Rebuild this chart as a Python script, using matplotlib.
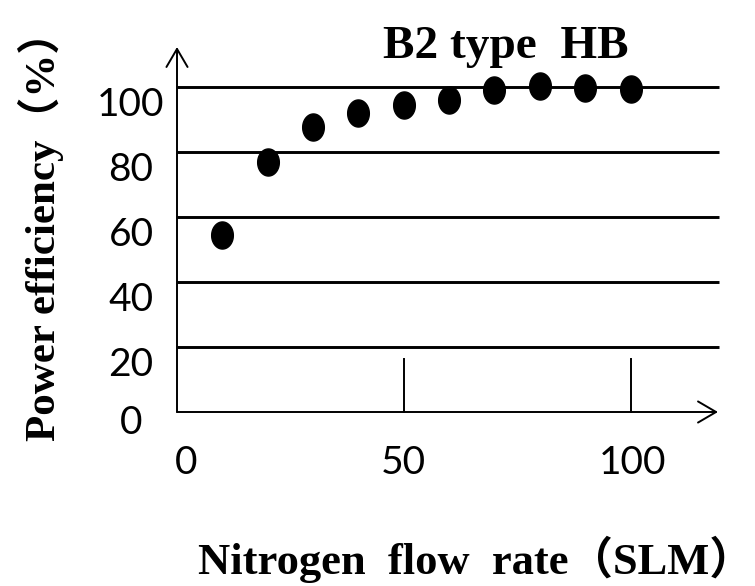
import numpy as np
import matplotlib
matplotlib.use("Agg")
import matplotlib.pyplot as plt
from matplotlib.path import Path
from matplotlib.transforms import blended_transform_factory

# ---- data ----
flow_rate = [10, 20, 30, 40, 50, 60, 70, 80, 90, 100]
efficiency = [54.5, 77, 87.7, 92, 94.5, 96, 99, 100.3, 99.7, 99.4]
y_ticks = [0, 20, 40, 60, 80, 100]
y_tick_labels = ["0", "20", "40", "60", "80", "100"]
x_ticks = [0, 50, 100]
x_tick_labels = ["0", "50", "100"]
title = "B2 type  HB"
x_label = "Nitrogen  flow  rate（SLM）"
y_label = "Power efficiency（%）"

# ---- layout (pixels) ----
W, H = 755, 586
X0, XS = 177.0, 4.535     # pixel of x=0, pixels per unit
Y0, YS = 412.0, 3.25      # pixel (from top) of y=0, pixels per unit

fig = plt.figure(figsize=(W / 100, H / 100), dpi=100)
ax = fig.add_axes([0, 0, 1, 1])
ax.set_xlim(-X0 / XS, (W - X0) / XS)
ax.set_ylim((Y0 - H) / YS, Y0 / YS)
ax.axis("off")

x_end = (718 - X0) / XS
grid_end = (719 - X0) / XS
y_top = (Y0 - 47) / YS

serif = ["Liberation Serif", "Noto Sans CJK JP"]
numfont = ["Lato", "DejaVu Sans"]

# gridlines
for yv in y_ticks[1:]:
    ax.plot([0, grid_end], [yv, yv], color="black", lw=2.1,
            solid_capstyle="butt", zorder=1)

# axes with open arrow heads
arrow = dict(arrowstyle="->,head_length=0.65,head_width=0.38",
             lw=1.4, color="black", mutation_scale=20, shrinkA=0, shrinkB=0)
ax.annotate("", xy=(x_end, 0), xytext=(0, 0), arrowprops=arrow)
ax.annotate("", xy=(0, y_top), xytext=(0, 0), arrowprops=arrow)

# x tick marks (inside, upward)
tick_len = (Y0 - 359) / YS
for xv in x_ticks[1:]:
    ax.plot([xv, xv], [0, tick_len], color="black", lw=1.4, zorder=1)

# markers: vertical ellipse
t = np.linspace(0, 2 * np.pi, 64)
ell = Path(np.column_stack([0.8 * np.cos(t), np.sin(t)]), closed=True)
ax.plot(flow_rate, efficiency, linestyle="none", marker=ell,
        markersize=19.5, color="black", zorder=3)

# y tick labels
ty = blended_transform_factory(fig.transFigure, ax.transData)
for v, lab in zip(y_ticks, y_tick_labels):
    dy = 2.0 if v == 0 else 0.0
    ax.text(131 / W, v + dy, lab, transform=ty, ha="center", va="top",
            fontsize=28, family=numfont)

# x tick labels
x_label_shift = [9, 0, 2]
tx = blended_transform_factory(ax.transData, fig.transFigure)
for v, lab, s in zip(x_ticks, x_tick_labels, x_label_shift):
    ax.text(v + s / XS, 1 - 445 / H, lab, transform=tx, ha="center", va="top",
            fontsize=28, family=numfont)

# title and axis labels
fig.text(506 / W, 1 - 58 / H, title, ha="center", va="baseline",
         fontsize=34, fontweight="bold", family=serif)
fig.text(476 / W, 1 - 574 / H, x_label, ha="center", va="baseline",
         fontsize=32, fontweight="bold", family=serif)
fig.text(55 / W, 1 - 226 / H, y_label, ha="center", va="baseline",
         rotation=90, rotation_mode="anchor",
         fontsize=31, fontweight="bold", family=serif)

fig.savefig("out.png", dpi=100)
